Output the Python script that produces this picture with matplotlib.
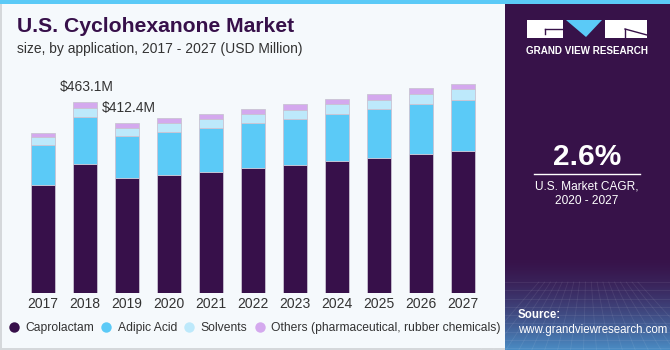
import numpy as np
import matplotlib
matplotlib.use("Agg")
import matplotlib.pyplot as plt
from matplotlib.lines import Line2D
from matplotlib.patches import Rectangle, Polygon

plt.rcParams['font.family'] = ['Liberation Sans', 'DejaVu Sans']

years = ["2017", "2018", "2019", "2020", "2021", "2022", "2023", "2024", "2025", "2026", "2027"]
caprolactam = [261.9, 312.8, 278.8, 286.8, 293.4, 303.1, 310.3, 320.0, 327.3, 337.0, 345.7]
adipic_acid = [97.7, 114.7, 101.9, 105.0, 107.4, 109.8, 112.3, 115.5, 118.8, 122.7, 123.7]
solvents = [19.4, 22.5, 20.1, 21.8, 21.8, 22.6, 22.6, 23.5, 23.3, 24.3, 25.2]
others = [10.5, 13.1, 11.6, 11.4, 12.1, 11.4, 13.8, 12.8, 13.8, 13.0, 12.9]
series_names = ["Caprolactam", "Adipic Acid", "Solvents", "Others (pharmaceutical, rubber chemicals)"]
series_colors = ["#37104a", "#5bcaf7", "#bde9fb", "#d4a9ee"]
callouts = {1: "$463.1M", 2: "$412.4M"}

W, H = 670, 350
fig = plt.figure(figsize=(W / 100, H / 100), dpi=100)
fig.patch.set_facecolor("#f5f9fc")


def fx(px):
    return px / W


def fy(py):
    return 1 - py / H


# background panels
bg = fig.add_axes([0, 0, 1, 1], zorder=-5)
bg.set_xlim(0, W)
bg.set_ylim(H, 0)
bg.axis("off")
bg.add_patch(Rectangle((0, 0), W, H, facecolor="#f5f9fc", edgecolor="none"))
bg.add_patch(Rectangle((0, 0), 2, H, facecolor="#d5d8db", edgecolor="none"))
bg.add_patch(Rectangle((0, H - 2), W, 2, facecolor="#d5d8db", edgecolor="none"))
bg.add_patch(Rectangle((505, 0), W - 505, H, facecolor="#371249", edgecolor="none"))
# gradient at the bottom of the right panel
grad = np.linspace(0, 1, 100).reshape(-1, 1)
c0 = np.array([0x37, 0x12, 0x49]) / 255
c1 = np.array([0x4a, 0x8c, 0xc4]) / 255
img = c0 + (c1 - c0) * (grad ** 1.6)[..., None]
bg.imshow(np.repeat(img, 2, axis=1), extent=(505, W, H, 255), aspect="auto", zorder=1)
for yy in np.linspace(282, 348, 9):
    bg.plot([505, W], [yy, yy], color="white", alpha=0.08, lw=0.6, zorder=2)
for xx in np.linspace(480, 700, 18):
    bg.plot([587 + (xx - 587) * 0.45, xx], [282, 350], color="white", alpha=0.08, lw=0.6, zorder=2)
bg.add_patch(Rectangle((0, 0), W, 4, facecolor="#5bcaf7", edgecolor="none", zorder=3))

# logo
bg.add_patch(Rectangle((527, 20), 36, 18, facecolor="white", edgecolor="none", zorder=3))
bg.plot([545, 563], [29, 29], color="#371249", lw=1.0, zorder=4)
bg.plot([545, 545], [29, 34], color="#371249", lw=1.0, zorder=4)
bg.add_patch(Polygon([(566, 20), (602, 20), (586, 37)], closed=True, facecolor="#5bcaf7", edgecolor="none", zorder=3))
bg.add_patch(Rectangle((605, 20), 42, 18, facecolor="white", edgecolor="none", zorder=3))
bg.plot([625, 647], [29, 35], color="#371249", lw=1.0, zorder=4)
bg.plot([625, 625], [29, 38], color="#371249", lw=1.0, zorder=4)
fig.text(fx(587), fy(51), "GRAND VIEW RESEARCH", color="white", fontsize=7.1, fontweight="bold",
         ha="center", va="center")

# CAGR block
fig.text(fx(587), fy(157), "2.6%", color="white", fontsize=21.5, fontweight="bold", ha="center", va="center")
bg.plot([534, 640], [173.5, 173.5], color="white", lw=1.0, zorder=4)
fig.text(fx(587), fy(186), "U.S. Market CAGR,", color="white", fontsize=8.6, ha="center", va="center")
fig.text(fx(587), fy(201), "2020 - 2027", color="white", fontsize=8.6, ha="center", va="center")
fig.text(fx(518), fy(315), "Source:", color="white", fontsize=8.3, fontweight="bold", ha="left", va="center")
fig.text(fx(518), fy(330), "www.grandviewresearch.com", color="white", fontsize=8.3, ha="left", va="center")

# titles
fig.text(fx(17), fy(27), "U.S. Cyclohexanone Market", color="#37104a", fontsize=15.2, fontweight="heavy",
         ha="left", va="center")
fig.text(fx(17), fy(49), "size, by application, 2017 - 2027 (USD Million)", color="#333333", fontsize=10,
         ha="left", va="center")

# chart
x0, x1 = 22, 484
ybase, ytop = 293.3, 60
ax = fig.add_axes([fx(x0), fy(ybase), fx(x1 - x0), (ybase - ytop) / H])
ax.set_facecolor("none")
ax.set_xlim(-0.5, len(years) - 0.5)
ax.set_ylim(0, (ybase - ytop) * 2.4246)
x = np.arange(len(years))
bottom = np.zeros(len(years))
for vals, name, col in zip([caprolactam, adipic_acid, solvents, others], series_names, series_colors):
    ax.bar(x, vals, 0.575, bottom=bottom, color=col, edgecolor="#c9c3d3", linewidth=0.6, label=name)
    bottom += np.array(vals)
for i, txt in callouts.items():
    ax.annotate(txt, (x[i], bottom[i]), xytext=(-25, 15), textcoords="offset pixels",
                fontsize=10, color="#333333", ha="left", va="center")
for s in ax.spines.values():
    s.set_visible(False)
ax.set_yticks([])
ax.set_xticks(x)
ax.set_xticklabels(years, fontsize=10, color="#333333")
ax.tick_params(axis="x", length=0, pad=3)

handles = [Line2D([], [], marker="o", linestyle="none", markersize=7.5, markerfacecolor=c,
                  markeredgecolor="none") for c in series_colors]
fig.legend(handles, series_names, loc="center left", bbox_to_anchor=(fx(-6), fy(328)), ncol=4,
           frameon=False, fontsize=8.7, handletextpad=0.2, columnspacing=0.25, labelcolor="#333333",
           handlelength=1.5)

fig.savefig("out.png", dpi=100, facecolor=fig.get_facecolor())
